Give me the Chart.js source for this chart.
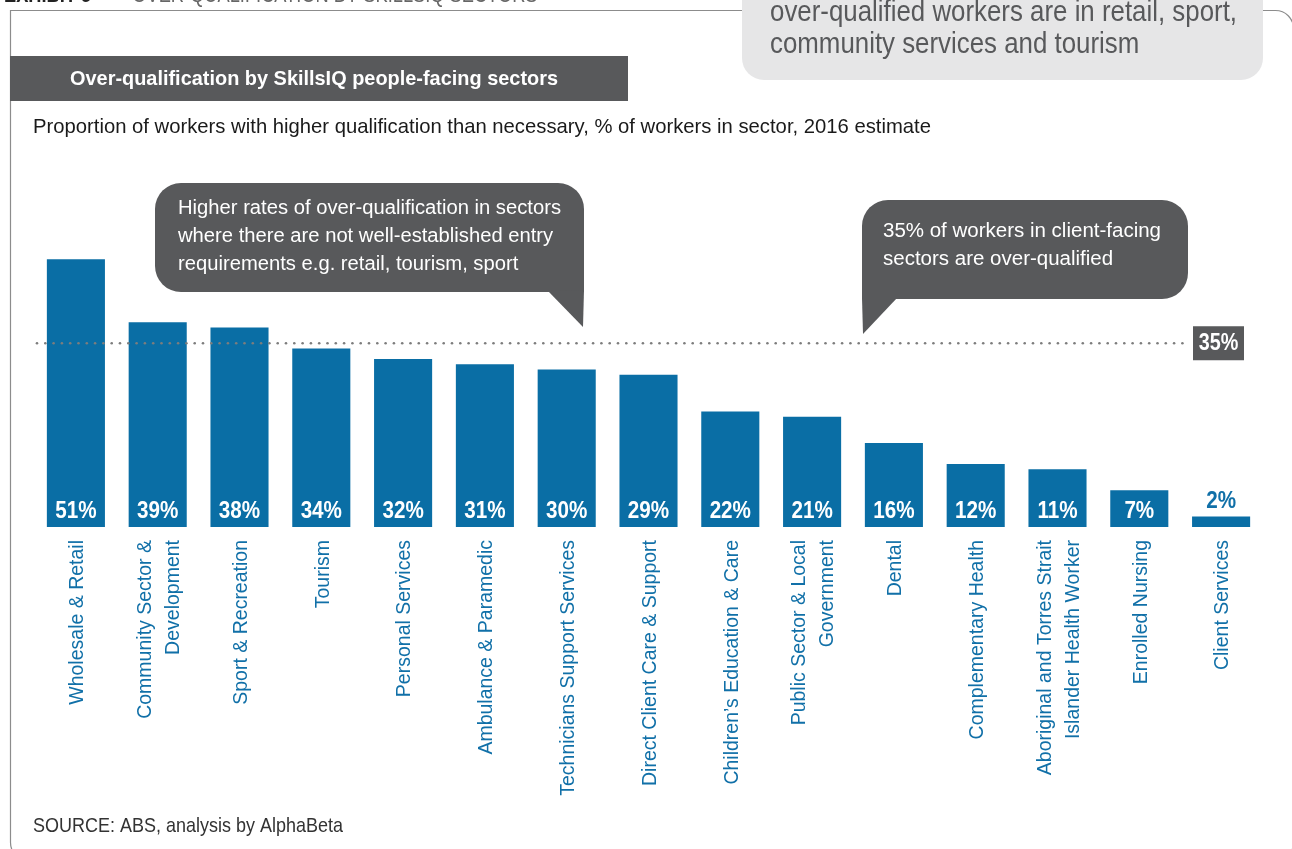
<!DOCTYPE html>
<html lang="en">
<head>
<meta charset="UTF-8">
<title>Over-qualification by SkillsIQ people-facing sectors</title>
<script src="https://cdn.jsdelivr.net/npm/chart.js"></script>
<style>
  html, body { margin: 0; padding: 0; background: #fff; }
  #wrap { position: relative; width: 1292px; height: 849px; overflow: hidden; }
</style>
</head>
<body>
<div id="wrap"><canvas id="chart" width="1292" height="849"></canvas></div>
<script>
const sectors = [
    'Wholesale & Retail',
    ['Community Sector &', 'Development'],
    'Sport & Recreation',
    'Tourism',
    'Personal Services',
    'Ambulance & Paramedic',
    'Technicians Support Services',
    'Direct Client Care & Support',
    'Children’s Education & Care',
    ['Public Sector & Local', 'Government'],
    'Dental',
    'Complementary Health',
    ['Aboriginal and Torres Strait', 'Islander Health Worker'],
    'Enrolled Nursing',
    'Client Services'
];
const overQualified = [51, 39, 38, 34, 32, 31, 30, 29, 22, 21, 16, 12, 11, 7, 2];
const valueLabels = overQualified.map(v => v + '%');
const averageShare = 35;
const averageLabel = '35%';

const BLUE = '#0a6ea5';
const LABEL_BLUE = '#1170a8';
const DARK = '#58595b';
const SANS = "'Liberation Sans', Arial, sans-serif";
const NARROW = 0.83; // no narrow face installed, squeeze Liberation Sans instead

function text(ctx, str, x, y, font, color, align, sx) {
    ctx.save();
    ctx.font = font;
    ctx.fillStyle = color;
    ctx.textAlign = align || 'left';
    ctx.textBaseline = 'middle';
    ctx.translate(x, y);
    ctx.scale(sx || 1, 1);
    ctx.fillText(str, 0, 0);
    ctx.restore();
}

// horizontal squeeze so a line spans the width it has in the exhibit
function squeeze(ctx, str, font, width) {
    ctx.font = font;
    return width / ctx.measureText(str).width;
}

function bubble(ctx, x, y, w, h, radii, tail) {
    ctx.fillStyle = DARK;
    ctx.beginPath();
    ctx.roundRect(x, y, w, h, radii);
    ctx.fill();
    ctx.beginPath();
    ctx.moveTo(tail[0][0], tail[0][1]);
    ctx.lineTo(tail[1][0], tail[1][1]);
    ctx.lineTo(tail[2][0], tail[2][1]);
    ctx.closePath();
    ctx.fill();
}

function block(ctx, lines, x, y0, step, font, color, width) {
    const sx = squeeze(ctx, lines[0], font, width);
    lines.forEach((ln, i) => text(ctx, ln, x, y0 + i * step, font, color, 'left', sx));
}

// frame, headers, notes behind the chart
const decor = {
    id: 'decor',
    beforeDraw(chart) {
        const ctx = chart.ctx;
        ctx.save();
        ctx.fillStyle = '#fff';
        ctx.fillRect(0, 0, chart.width, chart.height);

        // cut-off exhibit heading at the very top
        text(ctx, 'EXHIBIT 5', 4, -4, 'bold 22px ' + SANS, '#222', 'left', NARROW);
        text(ctx, '–  OVER-QUALIFICATION BY SKILLSIQ SECTORS', 112, -4, '22px ' + SANS, '#666', 'left', NARROW);

        // outer frame
        ctx.strokeStyle = '#8c8c8c';
        ctx.lineWidth = 1.2;
        ctx.beginPath();
        ctx.roundRect(10.5, 10.5, 1283, 850, [0, 18, 18, 18]);
        ctx.stroke();

        // key message box (top right)
        ctx.fillStyle = '#e6e6e7';
        ctx.beginPath();
        ctx.roundRect(742, -40, 521, 120, 22);
        ctx.fill();
        block(ctx, ['over-qualified workers are in retail, sport,', 'community services and tourism'],
            770, 13, 32, '29px ' + SANS, DARK, 467);

        // title bar
        ctx.fillStyle = DARK;
        ctx.fillRect(10, 56, 618, 45);
        const title = 'Over-qualification by SkillsIQ people-facing sectors';
        text(ctx, title, 314, 79, 'bold 21px ' + SANS, '#fff', 'center', squeeze(ctx, title, 'bold 21px ' + SANS, 488));

        const sub = 'Proportion of workers with higher qualification than necessary, % of workers in sector, 2016 estimate';
        text(ctx, sub, 33, 127, '21px ' + SANS, '#1a1a1a', 'left', squeeze(ctx, sub, '21px ' + SANS, 898));
        const src = 'SOURCE: ABS, analysis by AlphaBeta';
        text(ctx, src, 33, 826, '21px ' + SANS, '#333', 'left', squeeze(ctx, src, '21px ' + SANS, 310));
        ctx.restore();
    },
    afterDatasetsDraw(chart) {
        const ctx = chart.ctx;
        const xs = chart.scales.x;
        const ys = chart.scales.y;
        const area = chart.chartArea;
        ctx.save();

        // dotted average line + tag
        const ay = ys.getPixelForValue(averageShare);
        ctx.fillStyle = '#7d7d7d';
        for (let dx = area.left + 2; dx < 1190; dx += 8.3) {
            ctx.beginPath();
            ctx.arc(dx, ay, 1.3, 0, Math.PI * 2);
            ctx.fill();
        }
        ctx.fillStyle = DARK;
        ctx.fillRect(1193, ay - 17, 51, 34);
        text(ctx, averageLabel, 1218.5, ay, 'bold 23px ' + SANS, '#fff', 'center', 0.86);

        // value labels
        const meta = chart.getDatasetMeta(0);
        meta.data.forEach((bar, i) => {
            if (bar.base - bar.y > 30) {
                text(ctx, valueLabels[i], bar.x, bar.base - 16, 'bold 24px ' + SANS, '#fff', 'center', 0.86);
            } else {
                text(ctx, valueLabels[i], bar.x, bar.y - 15, 'bold 24px ' + SANS, LABEL_BLUE, 'center', 0.86);
            }
        });

        // category labels, rotated, multi-line blocks centred on the tick
        ctx.font = '19.5px ' + SANS;
        ctx.fillStyle = LABEL_BLUE;
        ctx.textAlign = 'right';
        ctx.textBaseline = 'middle';
        sectors.forEach((lab, i) => {
            const lines = Array.isArray(lab) ? lab : [lab];
            const cx = xs.getPixelForValue(i);
            lines.forEach((ln, j) => {
                ctx.save();
                ctx.translate(cx + (j - (lines.length - 1) / 2) * 28 + 2, area.bottom + 13);
                ctx.rotate(-Math.PI / 2);
                ctx.fillText(ln, 0, 0);
                ctx.restore();
            });
        });

        // call-outs
        bubble(ctx, 155, 183, 429, 109, [26, 26, 0, 26], [[548, 291], [583, 327], [584, 290]]);
        block(ctx, ['Higher rates of over-qualification in sectors',
                    'where there are not well-established entry',
                    'requirements e.g. retail, tourism, sport'],
            178, 208, 28, '20px ' + SANS, '#fff', 383);

        bubble(ctx, 862, 200, 326, 99, [26, 26, 26, 0], [[862, 298], [863, 334], [897, 298]]);
        block(ctx, ['35% of workers in client-facing', 'sectors are over-qualified'],
            883, 231, 28, '20px ' + SANS, '#fff', 278);

        ctx.restore();
    }
};

const ctx = document.getElementById('chart').getContext('2d');
new Chart(ctx, {
    type: 'bar',
    data: {
        labels: sectors,
        datasets: [{
            data: overQualified,
            backgroundColor: BLUE,
            borderWidth: 0,
            categoryPercentage: 1,
            barPercentage: 0.71
        }]
    },
    options: {
        responsive: false,
        animation: false,
        devicePixelRatio: 1,
        layout: { padding: { top: 212, left: 35, right: 30, bottom: 0 } },
        plugins: {
            legend: { display: false },
            tooltip: { enabled: false }
        },
        scales: {
            x: {
                grid: { display: false },
                border: { display: false },
                ticks: { display: false },
                afterFit: scale => { scale.height = 322; }
            },
            y: {
                display: false,
                min: 0,
                max: 60
            }
        }
    },
    plugins: [decor]
});
</script>
</body>
</html>
